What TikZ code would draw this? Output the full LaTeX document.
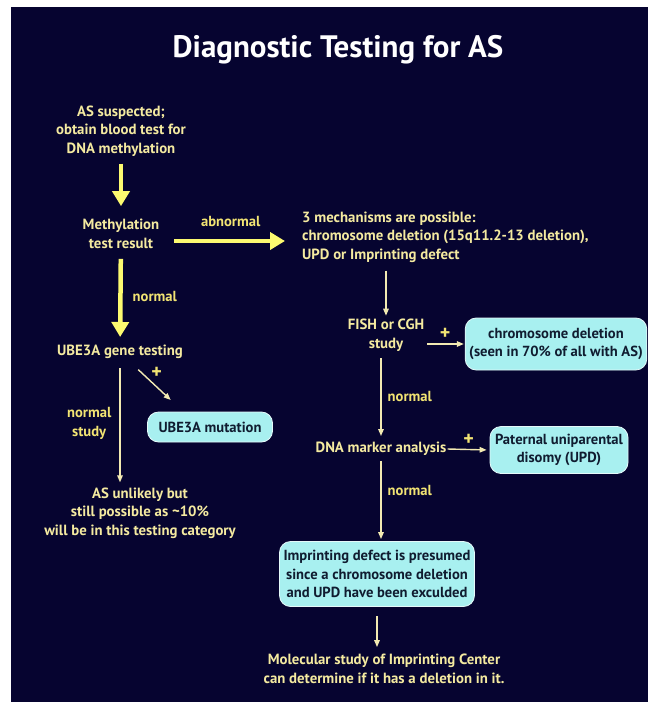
\documentclass[tikz,border=0pt]{standalone}
\usepackage{fontspec}
\setmainfont{PT Sans}
\usetikzlibrary{arrows.meta,positioning}

\definecolor{navy}{RGB}{6,4,48}
\definecolor{txtyellow}{RGB}{244,234,160}
\definecolor{lblyellow}{RGB}{242,228,115}
\definecolor{arryellow}{RGB}{252,250,112}
\definecolor{thinyellow}{RGB}{242,234,178}
\definecolor{boxfill}{RGB}{168,240,240}
\definecolor{boxtext}{RGB}{16,28,48}

\begin{document}
\begin{tikzpicture}[x=1pt, y=-1pt]
		% Define node styles
		\tikzstyle{plain} = [font=\bfseries\fontsize{14.8}{18.6}\selectfont, text=txtyellow, align=center, inner sep=1pt];
		\tikzstyle{lbl} = [font=\bfseries\fontsize{14.6}{18.6}\selectfont, text=lblyellow, inner sep=2pt];
		\tikzstyle{plus} = [font=\bfseries\fontsize{20}{20}\selectfont, text=lblyellow, inner sep=1pt];
		\tikzstyle{result} = [rounded corners=11pt, fill=boxfill, draw=white!70!boxfill, line width=0.8pt, text=boxtext, font=\bfseries\fontsize{14.6}{18.6}\selectfont, align=center, inner xsep=4pt];
		\tikzstyle{bigarrow} = [-{Triangle[width=17pt,length=15pt]}, line width=4.5pt, arryellow];
		\tikzstyle{thinarrow} = [-{Triangle[width=5.5pt,length=7pt]}, line width=1.4pt, thinyellow];
		
		% Background panel
		\fill[white] (0,0) rectangle (649,702);
		\fill[navy] (11,7) rectangle (648,702);
		
		% Title
		\node[font=\bfseries\fontsize{31}{34}\selectfont, text=white] (title) at (338,50) {Diagnostic Testing for AS};
		
		% Left column
		\node[plain] (suspect) at (121,131) {AS suspected;\\obtain blood test for\\DNA methylation};
		\node[plain] (methyl) at (121,234) {Methylation\\test result};
		\node[plain] (ube) at (120,352) {UBE3A gene testing};
		\node[result, minimum height=30pt, minimum width=125pt] (mutation) at (210,427) {UBE3A mutation};
		\node[plain] (unlikely) at (140,513) {AS unlikely but\\still possible as \textasciitilde10\%\\will be in this testing category};
		
		% Right column
		\node[plain, anchor=west, align=left] (mechs) at (301,237) {3 mechanisms are possible:\\chromosome deletion (15q11.2-13 deletion),\\UPD or Imprinting defect};
		\node[plain] (fish) at (386,335) {FISH or CGH\\study};
		\node[result, minimum height=52pt] (deletion) at (556,344) {chromosome deletion\\(seen in 70\% of all with AS)};
		\node[plain] (marker) at (381,449) {DNA marker analysis};
		\node[result, minimum height=47pt, minimum width=138pt] (upd) at (559,450) {Paternal uniparental\\disomy (UPD)};
		\node[result, minimum height=65pt] (imprint) at (377,574) {Imprinting defect is presumed\\since a chromosome deletion\\and UPD have been exculded};
		\node[plain] (molecular) at (384,669) {Molecular study of Imprinting Center\\can determine if it has a deletion in it.};
		
		% Thick arrows
		\draw[bigarrow, shorten <=6pt, shorten >=12pt] (suspect) -- (methyl);
		\draw[bigarrow, shorten <=9pt, shorten >=7pt] (methyl) -- node[lbl, right=8pt] {normal} (ube);
		\draw[bigarrow, shorten <=14pt, shorten >=16pt] ([yshift=-7pt]methyl.east) -- node[lbl, above=10pt] {abnormal} ([yshift=-7pt]methyl.east -| mechs.west);
		
		% Thin arrows
		\draw[thinarrow, shorten <=7pt, shorten >=2pt] (fish.north |- mechs.south) -- (fish.north);
		\draw[thinarrow, shorten <=2pt, shorten >=1pt] ([yshift=-9pt]fish.east) -- node[plus, above=3pt] {+} ([yshift=-9pt]fish.east -| deletion.west);
		\draw[thinarrow, shorten <=6pt, shorten >=5pt] (fish.south -| marker.north) -- node[lbl, right=4pt] {normal} (marker.north);
		\draw[thinarrow, shorten >=3pt] (marker.east) -- node[plus, above=2pt] {+} (upd.west);
		\draw[thinarrow, shorten <=4pt, shorten >=2pt] (marker.south) -- node[lbl, right=4pt, pos=0.4] {normal} (marker.south |- imprint.north);
		\draw[thinarrow, shorten <=9pt, shorten >=6pt] (imprint.south) -- (imprint.south |- molecular.north);
		
		% UBE3A branches
		\draw[thinarrow, shorten <=8pt, shorten >=4pt] (ube.south) -- node[lbl, left=6pt, align=center] {normal\\study} (unlikely.north -| ube.south);
		\draw[thinarrow, shorten <=14pt, shorten >=17pt] ([xshift=8pt]ube.south) -- node[plus, right=8pt, pos=0.25] {+} ([xshift=36pt]mutation.north west);
\end{tikzpicture}
\end{document}
